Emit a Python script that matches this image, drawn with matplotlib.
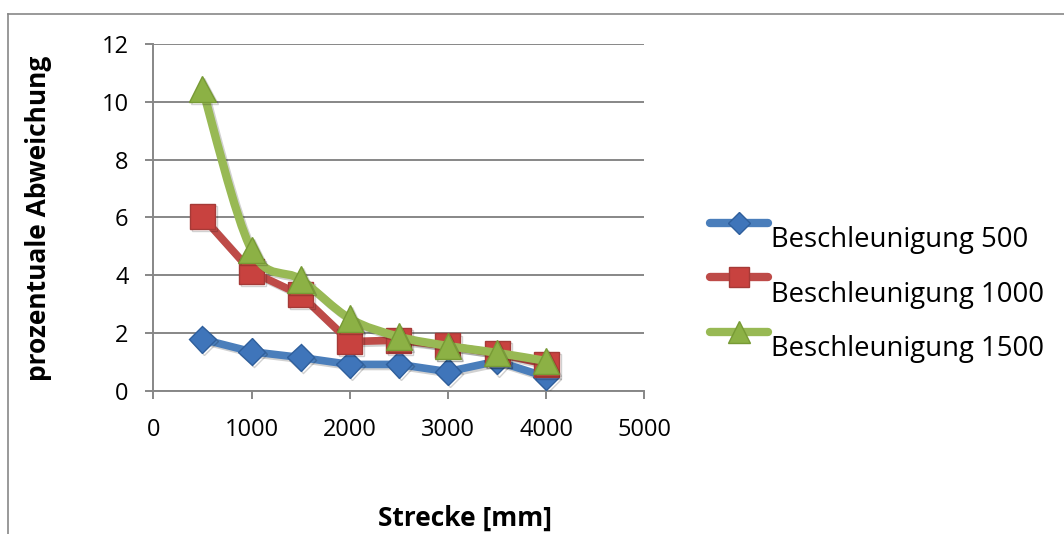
import matplotlib
matplotlib.use("Agg")
import matplotlib.pyplot as plt
import matplotlib.patheffects as pe
from matplotlib.lines import Line2D
from matplotlib.path import Path
from matplotlib.patches import PathPatch

plt.rcParams["font.family"] = ["Open Sans", "DejaVu Sans"]

# Strecke [mm] and prozentuale Abweichung per Beschleunigung
strecke = [500, 1000, 1500, 2000, 2500, 3000, 3500, 4000]
abw_500 = [1.78, 1.35, 1.15, 0.91, 0.91, 0.66, 1.02, 0.48]
abw_1000 = [6.02, 4.12, 3.32, 1.70, 1.75, 1.55, 1.29, 0.92]
abw_1500 = [10.45, 4.87, 3.85, 2.50, 1.87, 1.55, 1.31, 1.03]
labels = ["Beschleunigung 500", "Beschleunigung 1000", "Beschleunigung 1500"]

W, H = 1064, 534
GRID = "#878787"
styles = [
    dict(line="#4a7ebb", face="#3f75ba", edge="#2f5f9c", marker="D", ms=13.5),
    dict(line="#be4b48", face="#c8423f", edge="#a53a37", marker="s", ms=18),
    dict(line="#98b954", face="#8cb145", edge="#779a35", marker="^", ms=19),
]
shadow = [pe.SimpleLineShadow(offset=(1.5, -1.5), alpha=0.18), pe.Normal()]


def fx(x):
    return x / W


def fy(y):
    return 1 - y / H


def smooth_path(xs, ys):
    # Bezier curve through the points (Catmull-Rom style control points)
    pts = list(zip(xs, ys))
    verts = [pts[0]]
    codes = [Path.MOVETO]
    n = len(pts)
    for i in range(n - 1):
        p0 = pts[max(i - 1, 0)]
        p1 = pts[i]
        p2 = pts[i + 1]
        p3 = pts[min(i + 2, n - 1)]
        c1 = (p1[0] + (p2[0] - p0[0]) / 6, p1[1] + (p2[1] - p0[1]) / 6)
        c2 = (p2[0] - (p3[0] - p1[0]) / 6, p2[1] - (p3[1] - p1[1]) / 6)
        verts += [c1, c2, p2]
        codes += [Path.CURVE4] * 3
    return Path(verts, codes)


fig = plt.figure(figsize=(W / 100, H / 100), dpi=100)
ax = fig.add_axes([153.3 / W, (H - 390.7) / H, 491 / W, 346.7 / H])

series = [abw_500, abw_1000, abw_1500]
for k, (vals, st) in enumerate(zip(series, styles)):
    if k == 2:
        patch = PathPatch(smooth_path(strecke, vals), fill=False, edgecolor=st["line"],
                          lw=6, capstyle="round", joinstyle="round", zorder=3 + k,
                          path_effects=shadow)
        ax.add_patch(patch)
    else:
        ax.plot(strecke, vals, color=st["line"], lw=5.5, solid_capstyle="round",
                solid_joinstyle="round", zorder=3 + k, path_effects=shadow)
    ax.plot(strecke, vals, ls="none", marker=st["marker"], ms=st["ms"],
            markerfacecolor=st["face"], markeredgecolor=st["edge"], markeredgewidth=1,
            zorder=3.5 + k, path_effects=shadow)

ax.set_xlim(0, 5000)
ax.set_ylim(0, 12)
ax.set_xticks(range(0, 5001, 1000))
ax.set_yticks(range(0, 13, 2))
ax.grid(axis="y", color=GRID, lw=1.4)
ax.set_axisbelow(True)
for s in ["top", "right"]:
    ax.spines[s].set_visible(False)
for s in ["left", "bottom"]:
    ax.spines[s].set_color(GRID)
    ax.spines[s].set_linewidth(1.4)
ax.tick_params(axis="both", direction="out", length=5.8, width=1.4, color=GRID,
               labelsize=17, labelcolor="black")
ax.tick_params(axis="x", pad=14)
ax.tick_params(axis="y", pad=12)

fig.text(fx(39), fy(218.5), "prozentuale Abweichung", rotation=90, ha="center",
         va="center", fontsize=19, fontweight="bold")
fig.text(fx(464.7), fy(518), "Strecke [mm]", ha="center", va="center",
         fontsize=19, fontweight="bold")

# legend: sample line with marker, text set a little below it
for i, (lab, st) in enumerate(zip(labels, styles)):
    yl = 222.7 + 54.5 * i
    fig.add_artist(Line2D([fx(710), fx(768)], [fy(yl), fy(yl)], transform=fig.transFigure,
                          color=st["line"], lw=6, solid_capstyle="round"))
    fig.add_artist(Line2D([fx(739)], [fy(yl)], transform=fig.transFigure, ls="none",
                          marker=st["marker"], ms=st["ms"] * 0.8,
                          markerfacecolor=st["face"], markeredgecolor=st["edge"]))
    fig.text(fx(771), fy(yl + 24.5), lab, ha="left", va="baseline", fontsize=19.8)

# chart frame
fig.add_artist(Line2D([fx(8), fx(8)], [0, fy(14)], transform=fig.transFigure,
                      color=GRID, lw=1.2))
fig.add_artist(Line2D([fx(8), 1], [fy(14), fy(14)], transform=fig.transFigure,
                      color=GRID, lw=1.2))

fig.savefig("out.png", dpi=100)
